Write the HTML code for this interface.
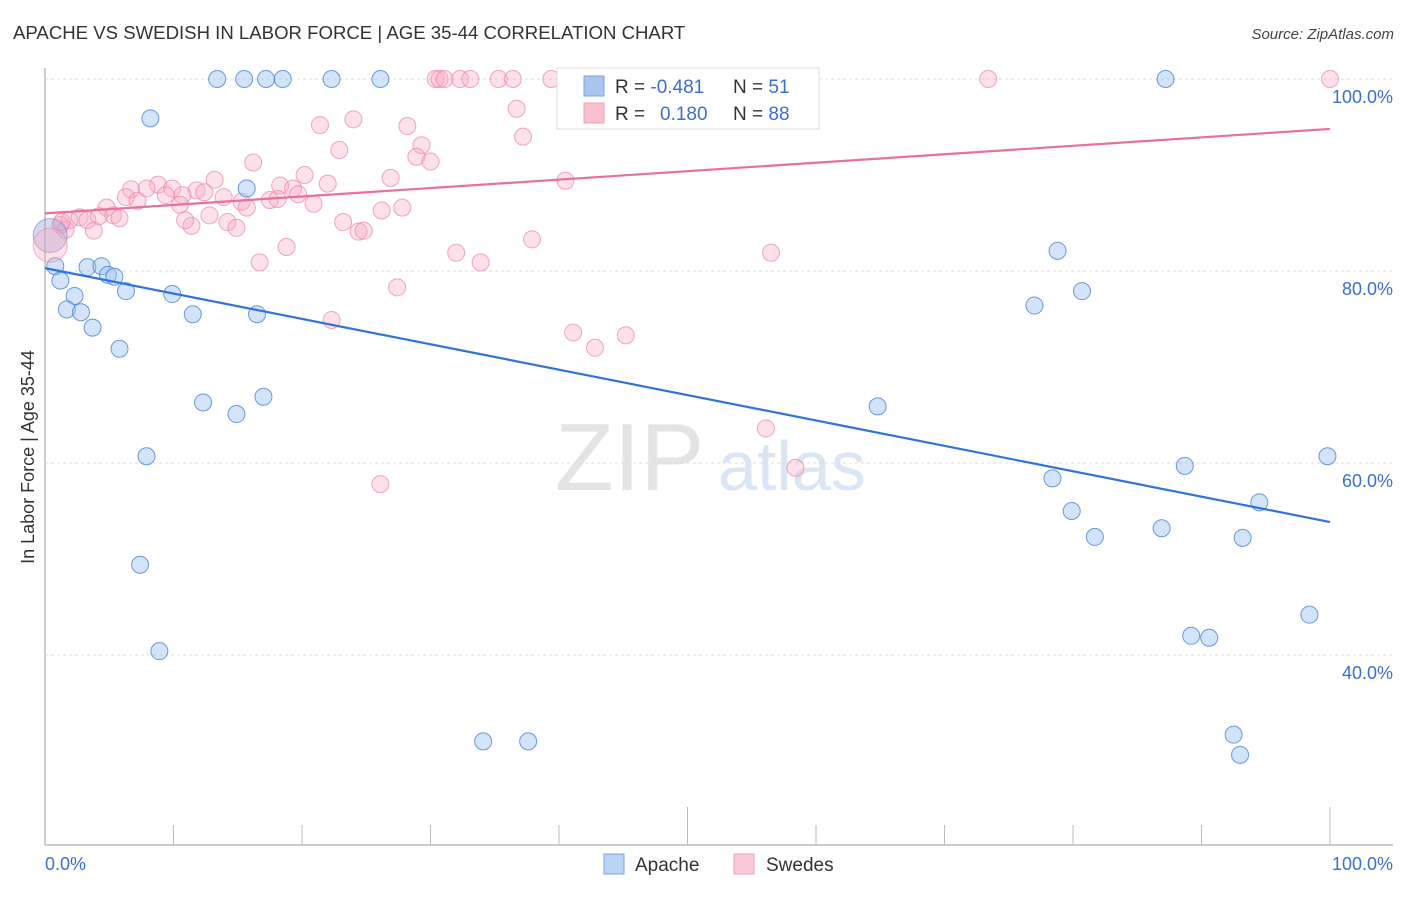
<!DOCTYPE html>
<html><head><meta charset="utf-8">
<style>
body{margin:0;background:#fff;width:1406px;height:892px;overflow:hidden;font-family:"Liberation Sans",sans-serif;}
svg text{font-family:"Liberation Sans",sans-serif;}
</style></head>
<body>
<svg id="chart" width="1406" height="892" viewBox="0 0 1406 892" xmlns="http://www.w3.org/2000/svg">
<text x="13" y="39" font-size="18.6" fill="#333">APACHE VS SWEDISH IN LABOR FORCE | AGE 35-44 CORRELATION CHART</text>
<text x="1394" y="39" font-size="15" fill="#444" font-style="italic" text-anchor="end">Source: ZipAtlas.com</text>
<text x="555" y="490" font-size="96" font-family="Liberation Serif" fill="#e4e4e4">ZIP</text>
<text x="718" y="490" font-size="70" fill="#dbe6f5">atlas</text>
<g id="grid"></g>
<g id="axes"></g>
<g id="marks"></g>
<g id="lines"></g>
<text transform="translate(34,457) rotate(-90)" font-size="18" fill="#333" text-anchor="middle">In Labor Force | Age 35-44</text>
<g>
<rect x="557" y="68" width="262" height="61" fill="#fff" stroke="#ddd"/>
<rect x="584" y="76" width="20" height="20" fill="#a9c4ef" stroke="#7fa3e0"/>
<rect x="584" y="103" width="20" height="20" fill="#f9c0d0" stroke="#efa0b8"/>
<text x="615" y="93" font-size="19" fill="#333">R = <tspan fill="#3a6fd0">-0.481</tspan></text>
<text x="733" y="93" font-size="19" fill="#333">N = <tspan fill="#3a6fd0"> 51</tspan></text>
<text x="615" y="120" font-size="19" fill="#333">R = <tspan fill="#3a6fd0" x="660">0.180</tspan></text>
<text x="733" y="120" font-size="19" fill="#333">N = <tspan fill="#3a6fd0">88</tspan></text>
</g>
<g>
<rect x="604" y="854" width="20" height="20" fill="#b8d3f5" stroke="#7fa3e0"/>
<text x="635" y="871" font-size="19" fill="#333">Apache</text>
<rect x="734" y="854" width="20" height="20" fill="#fbcad8" stroke="#efa0b8"/>
<text x="766" y="871" font-size="19" fill="#333">Swedes</text>
</g>
</svg>
<script>
const apacheX=[13.4,15.5,17.2,18.5,22.3,26.1,87.2,8.2,15.7,0.8,1.2,3.3,4.4,4.9,5.4,2.3,6.3,9.9,1.7,2.8,11.5,16.5,3.7,5.8,12.3,14.9,17.0,7.9,7.4,8.9,34.1,37.6,78.8,80.7,77.0,64.8,78.4,79.9,81.7,88.7,86.9,94.5,93.2,99.8,98.4,89.2,90.6,92.5,93.0];
const apacheY=[100,100,100,100,100,100,100,95.9,88.6,80.5,79.0,80.4,80.5,79.6,79.4,77.4,77.9,77.6,76.0,75.7,75.5,75.5,74.1,71.9,66.3,65.1,66.9,60.7,49.4,40.4,31.0,31.0,82.1,77.9,76.4,65.9,58.4,55.0,52.3,59.7,53.2,55.9,52.2,60.7,44.2,42.0,41.8,31.7,29.6];
const swedesX=[30.4,30.7,31.1,32.3,33.1,35.3,36.4,39.4,42.4,43.2,47.9,50.2,73.4,100,36.7,21.4,24.0,28.2,37.2,29.3,22.9,28.9,30.0,16.2,20.2,26.9,13.2,40.5,22.0,6.7,8.8,7.9,9.9,11.8,18.3,19.3,12.4,19.7,6.3,7.2,9.4,10.7,13.9,15.3,17.5,18.1,20.9,15.7,26.2,27.8,4.8,5.3,5.8,10.5,12.8,14.2,14.9,11.4,10.9,23.2,24.4,24.8,1.9,2.7,3.3,4.2,3.8,1.2,1.6,37.9,32.0,18.8,16.7,33.9,56.5,27.4,22.3,41.1,42.8,45.2,56.1,58.4,26.1,1.3];
const swedesY=[100,100,100,100,100,100,100,100,100,100,100,100,100,100,96.9,95.2,95.8,95.1,94.0,93.1,92.6,91.9,91.4,91.3,90.0,89.7,89.5,89.4,89.1,88.5,89.0,88.6,88.6,88.4,88.9,88.6,88.2,88.0,87.7,87.3,87.9,87.9,87.7,87.2,87.4,87.5,87.0,86.6,86.3,86.6,86.6,85.8,85.5,86.9,85.8,85.1,84.5,84.7,85.3,85.1,84.1,84.2,85.3,85.6,85.3,85.7,84.2,84.8,84.3,83.3,81.9,82.5,80.9,80.9,81.9,78.3,74.9,73.6,72.0,73.3,63.6,59.5,57.8,85.1];
const bigX=[0.4];
const bigApacheY=[83.7];
const bigSwedesY=[82.7];
const trendApache=[80.3,53.85];
const trendSwedes=[86.0,94.8];
const yTicks=[40,60,80,100];
const yTickLabels=["40.0%","60.0%","80.0%","100.0%"];
const xTicks=[0,10,20,30,40,50,60,70,80,90,100];
const xLabels=["0.0%","100.0%"];

const NS="http://www.w3.org/2000/svg";
const sx=v=>45+v*12.85;
const sy=v=>79+(100-v)*9.6;
function mk(parent,tag,attrs){const e=document.createElementNS(NS,tag);for(const k in attrs)e.setAttribute(k,attrs[k]);document.getElementById(parent).appendChild(e);return e;}

yTicks.forEach((t,i)=>{
  const l=mk('grid','line',{x1:45,x2:1393,y1:sy(t),y2:sy(t),stroke:'#ddd','stroke-dasharray':'3,3'});
  
  
  const tx=mk('grid','text',{x:1393,y:sy(t)+24,'font-size':18,fill:'#3a6fd0','text-anchor':'end'});
  tx.textContent=yTickLabels[i];
  
  
});
const ax=mk('axes','line',{x1:45,x2:1393,y1:845,y2:845,stroke:'#bbb','stroke-width':1.5});


const ay=mk('axes','line',{x1:45,x2:45,y1:68,y2:845,stroke:'#bbb','stroke-width':1.5});


xTicks.forEach(t=>{
  const major=(t%50===0&&t>0);
  const tk=mk('axes','line',{x1:sx(t),x2:sx(t),y1:major?807:825,y2:845,stroke:'#bbb'});
  
  
});
const xl0=mk('axes','text',{x:45,y:870,'font-size':18,fill:'#3a6fd0'});xl0.textContent=xLabels[0];


const xl1=mk('axes','text',{x:1393,y:870,'font-size':18,fill:'#3a6fd0','text-anchor':'end'});xl1.textContent=xLabels[1];



swedesX.forEach((x,i)=>{
  const c=mk('marks','circle',{cx:sx(x),cy:sy(swedesY[i]),r:8.5,fill:'rgba(248,170,195,0.35)',stroke:'rgba(235,130,165,0.7)','stroke-width':1});
  
  
});
apacheX.forEach((x,i)=>{
  const c=mk('marks','circle',{cx:sx(x),cy:sy(apacheY[i]),r:8.5,fill:'rgba(160,195,240,0.45)',stroke:'rgba(70,130,215,0.8)','stroke-width':1});
  
  
});
bigX.forEach((x,i)=>{
  const a=mk('marks','circle',{cx:sx(x),cy:sy(bigApacheY[i]),r:17,fill:'rgba(160,170,220,0.45)',stroke:'rgba(120,130,200,0.6)'});
  
  
  const b=mk('marks','circle',{cx:sx(x),cy:sy(bigSwedesY[i]),r:17,fill:'rgba(248,170,195,0.35)',stroke:'rgba(235,130,165,0.6)'});
  
  
});
const ta=mk('lines','line',{x1:sx(0),y1:sy(trendApache[0]),x2:sx(100),y2:sy(trendApache[1]),stroke:'#2f74d8','stroke-width':2.2});


const ts=mk('lines','line',{x1:sx(0),y1:sy(trendSwedes[0]),x2:sx(100),y2:sy(trendSwedes[1]),stroke:'#e8709a','stroke-width':2.2});


</script>
</body></html>
